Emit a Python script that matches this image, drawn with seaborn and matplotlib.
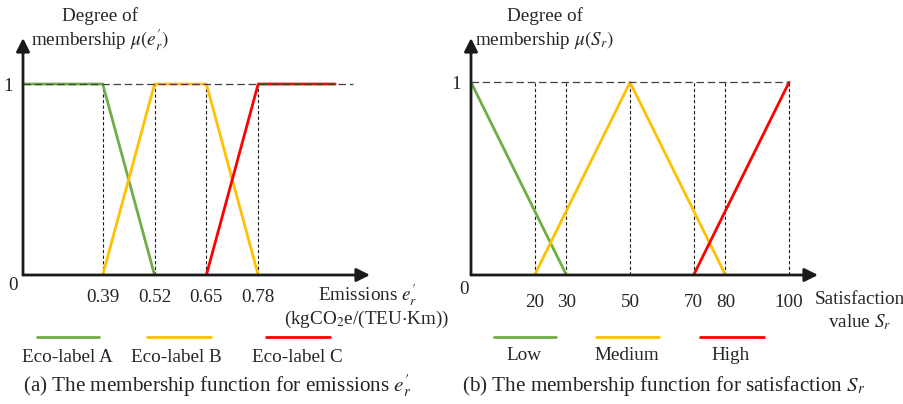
import numpy as np
import pandas as pd
import matplotlib
matplotlib.use('Agg')
import matplotlib.pyplot as plt
from matplotlib.lines import Line2D
import seaborn as sns

# ---- data ----
# (a) emissions, eco-labels
emis_breaks = [0.39, 0.52, 0.65, 0.78]
emis_start = 0.19      # where the drawn axis starts (labelled "0")
emis_end = 0.973       # end of the Eco-label C plateau
emis_labels = ['Eco-label A', 'Eco-label B', 'Eco-label C']
emis_x = [[emis_start, 0.39, 0.52], [0.39, 0.52, 0.65, 0.78], [0.65, 0.78, emis_end]]
emis_y = [[1, 1, 0], [0, 1, 1, 0], [0, 1, 1]]

# (b) satisfaction
sat_breaks = [20, 30, 50, 70, 80, 100]
sat_labels = ['Low', 'Medium', 'High']
sat_x = [[0, 30], [20, 50, 80], [70, 100]]
sat_y = [[1, 0], [0, 1, 0], [0, 1]]

colors = ['#70AD47', '#FFC000', '#FF0000']

sns.set_theme(style='white')
plt.rcParams['font.family'] = ['Liberation Serif', 'DejaVu Serif']
plt.rcParams['mathtext.fontset'] = 'stix'
FS = 13.8
CAP_FS = 15.2

W, H = 904, 404
fig = plt.figure(figsize=(W / 100, H / 100), dpi=100)


def fx(x):
    return x / W


def fy(y):
    return 1 - y / H


def make_df(xs, ys, labels):
    rows = []
    for lab, xx, yy in zip(labels, xs, ys):
        for a, b in zip(xx, yy):
            rows.append({'x': a, 'y': b, 'label': lab})
    return pd.DataFrame(rows)


def setup_axes(ox, oy, tipx, tipy, xlim, ylim):
    ax = fig.add_axes([fx(ox), fy(oy), (tipx - ox) / W, (oy - tipy) / H])
    ax.set_xlim(*xlim)
    ax.set_ylim(*ylim)
    for s in ax.spines.values():
        s.set_visible(False)
    ax.patch.set_alpha(0)
    arrow = dict(arrowstyle='-|>', color='k', lw=2, mutation_scale=20, shrinkA=0, shrinkB=0)
    ax.annotate('', xy=(1, 0), xytext=(0, 0), xycoords='axes fraction', arrowprops=arrow)
    ax.annotate('', xy=(0, 1), xytext=(0, 0), xycoords='axes fraction', arrowprops=arrow)
    ax.tick_params(length=0, labelsize=FS)
    ax.set_yticks([1])
    ax.set_yticklabels(['1'])
    ax.tick_params(axis='y', pad=7)
    ax.tick_params(axis='x', pad=10)
    return ax


# ---- (a) ----
ax1 = setup_axes(23, 275, 370, 38, (emis_start, 1.0605), (0, 1.241))
df1 = make_df(emis_x, emis_y, emis_labels)
sns.lineplot(data=df1, x='x', y='y', hue='label', palette=colors, sort=False,
             estimator=None, legend=False, lw=2, ax=ax1)
ax1.hlines(1, emis_start, 1.018, colors='#404040', linestyles=(0, (6, 3)), lw=0.9, zorder=5)
ax1.vlines(emis_breaks, 0, 1, colors='k', linestyles=(0, (3, 2)), lw=0.8, zorder=1)
ax1.set_xticks(emis_breaks)
ax1.set_xticklabels([f'{v:.2f}' for v in emis_breaks])
ax1.set_xlabel('')
ax1.set_ylabel('')

# ---- (b) ----
ax2 = setup_axes(471, 275, 818, 38, (0, 109.1), (0, 1.23))
df2 = make_df(sat_x, sat_y, sat_labels)
sns.lineplot(data=df2, x='x', y='y', hue='label', palette=colors, sort=False,
             estimator=None, legend=False, lw=2, ax=ax2)
ax2.hlines(1, 0, 100, colors='#404040', linestyles=(0, (6, 3)), lw=0.9, zorder=5)
ax2.vlines(sat_breaks, 0, 1, colors='k', linestyles=(0, (3, 2)), lw=0.8, zorder=1)
ax2.set_xticks(sat_breaks)
ax2.set_xticklabels([str(v) for v in sat_breaks])
ax2.tick_params(axis='x', pad=14)
ax2.set_xlabel('')
ax2.set_ylabel('')

# ---- free texts ----
kw = dict(fontsize=FS, ha='center', va='center')
fig.text(fx(13), fy(285), '0', **kw)
fig.text(fx(464), fy(290), '0', **kw)

fig.text(fx(100), fy(16), 'Degree of', **kw)
fig.text(fx(100), fy(40), r'membership $\mu(e^{\prime}_{r})$', **kw)
fig.text(fx(545), fy(16), 'Degree of', **kw)
fig.text(fx(544), fy(40), r'membership $\mu(S_r)$', **kw)

fig.text(fx(368), fy(295), r'Emissions $e^{\prime}_{r}$', **kw)
fig.text(fx(367), fy(319), r'(kgCO$_2$e/(TEU$\cdot$Km))', **kw)
fig.text(fx(860), fy(300), 'Satisfaction', **kw)
fig.text(fx(860), fy(322), r'value $S_r$', **kw)

# legends: line above, label below
leg_a = [(37, 99, 67), (147, 211, 176), (266, 330, 297)]
for (x1, x2, xc), lab, c in zip(leg_a, emis_labels, colors):
    fig.add_artist(Line2D([fx(x1), fx(x2)], [fy(337), fy(337)], color=c, lw=2))
    fig.text(fx(xc), fy(357), lab, **kw)
leg_b = [(494, 556, 524), (596, 659, 627), (700, 764, 731)]
for (x1, x2, xc), lab, c in zip(leg_b, sat_labels, colors):
    fig.add_artist(Line2D([fx(x1), fx(x2)], [fy(337), fy(337)], color=c, lw=2))
    fig.text(fx(xc), fy(356), lab, **kw)

fig.text(fx(23), fy(386), r'(a) The membership function for emissions $e^{\prime}_{r}$',
         fontsize=CAP_FS, ha='left', va='center')
fig.text(fx(462), fy(386), r'(b) The membership function for satisfaction $S_r$',
         fontsize=CAP_FS, ha='left', va='center')

fig.savefig('out.png', dpi=100, facecolor='white')
